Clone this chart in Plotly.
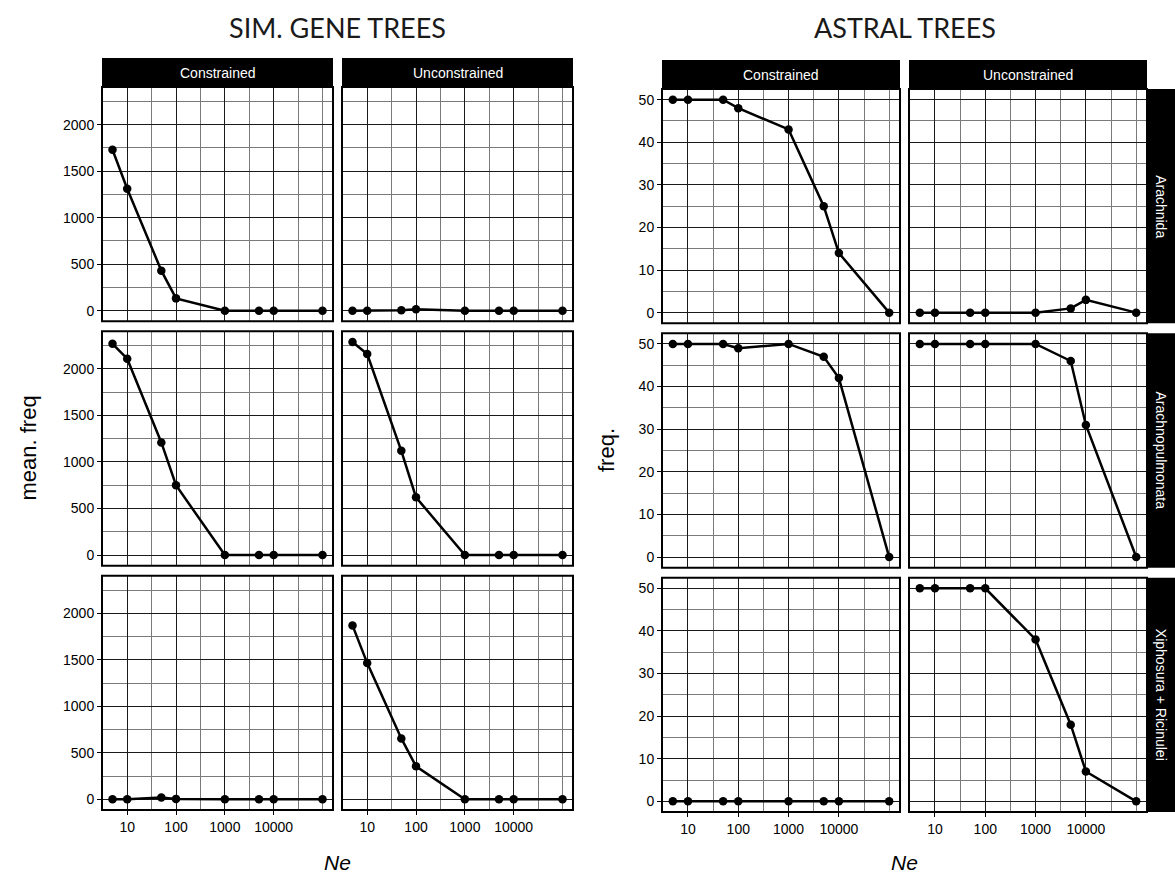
import math
import plotly.graph_objects as go

# ---------------- data ----------------
ne = [5, 10, 50, 100, 1000, 5000, 10000, 100000]
clades = ["Arachnida", "Arachnopulmonata", "Xiphosura + Ricinulei"]
conditions = ["Constrained", "Unconstrained"]

# SIM. GENE TREES (mean. freq)
gene_arachnida_con = [1730, 1310, 430, 132, 0, 0, 0, 0]
gene_arachnida_unc = [0, 0, 5, 15, 0, 0, 0, 0]
gene_arachnopulmonata_con = [2270, 2110, 1210, 750, 0, 0, 0, 0]
gene_arachnopulmonata_unc = [2290, 2160, 1120, 620, 0, 0, 0, 0]
gene_xiphosura_con = [0, 0, 20, 5, 0, 0, 0, 0]
gene_xiphosura_unc = [1870, 1465, 655, 355, 0, 0, 0, 0]

# ASTRAL TREES (freq.)
astral_arachnida_con = [50, 50, 50, 48, 43, 25, 14, 0]
astral_arachnida_unc = [0, 0, 0, 0, 0, 1, 3, 0]
astral_arachnopulmonata_con = [50, 50, 50, 49, 50, 47, 42, 0]
astral_arachnopulmonata_unc = [50, 50, 50, 50, 50, 46, 31, 0]
astral_xiphosura_con = [0, 0, 0, 0, 0, 0, 0, 0]
astral_xiphosura_unc = [50, 50, 50, 50, 38, 18, 7, 0]

x_ticks = [10, 100, 1000, 10000]
x_ticktext = ["10", "100", "1000", "10000"]
x_minor = [31.62, 316.2, 3162, 31623, 100000]

gene_yticks = [0, 500, 1000, 1500, 2000]
gene_yminor = [250, 750, 1250, 1750, 2250]
astral_yticks = [0, 10, 20, 30, 40, 50]
astral_yminor = [5, 15, 25, 35, 45]

gene_series = [
    [gene_arachnida_con, gene_arachnida_unc],
    [gene_arachnopulmonata_con, gene_arachnopulmonata_unc],
    [gene_xiphosura_con, gene_xiphosura_unc],
]
astral_series = [
    [astral_arachnida_con, astral_arachnida_unc],
    [astral_arachnopulmonata_con, astral_arachnopulmonata_unc],
    [astral_xiphosura_con, astral_xiphosura_unc],
]

# ---------------- layout geometry (pixels) ----------------
W, H = 1175, 878
FONT = "Liberation Sans, Arial, Helvetica, sans-serif"
TITLE_FONT = "Lato, Liberation Sans, sans-serif"
TICK_SIZE = 14


def fx(p):
    return p / W


def fy(p):
    return 1 - p / H


groups = [
    dict(cols=[(102, 333), (342, 573)],
         rows=[(87, 321.3), (331.3, 565.7), (575.7, 810)],
         strip_top=58, series=gene_series,
         yr=[-114.5, 2404.5], yticks=gene_yticks, yminor=gene_yminor),
    dict(cols=[(662, 900), (909, 1147)],
         rows=[(89, 323.3), (333.3, 567.7), (577.7, 812)],
         strip_top=60, series=astral_series,
         yr=[-2.5, 52.5], yticks=astral_yticks, yminor=astral_yminor),
]

xr = [math.log10(5) - 0.215, 5 + 0.215]

fig = go.Figure()
layout = dict(
    width=W, height=H,
    margin=dict(l=0, r=0, t=0, b=0),
    paper_bgcolor="white", plot_bgcolor="white",
    showlegend=False,
    font=dict(family=FONT, size=TICK_SIZE, color="black"),
)
shapes = []
annotations = []

idx = 0
for g, grp in enumerate(groups):
    for r, (ytop, ybot) in enumerate(grp["rows"]):
        for c, (xl, xrt) in enumerate(grp["cols"]):
            idx += 1
            xa = "xaxis" if idx == 1 else f"xaxis{idx}"
            ya = "yaxis" if idx == 1 else f"yaxis{idx}"
            xs = "x" if idx == 1 else f"x{idx}"
            ys = "y" if idx == 1 else f"y{idx}"
            bottom = r == 2
            left = c == 0
            layout[xa] = dict(
                type="log", domain=[fx(xl), fx(xrt)], range=xr, anchor=ys,
                tickmode="array", tickvals=x_ticks, ticktext=x_ticktext,
                showticklabels=bottom, ticks="outside" if bottom else "",
                ticklen=4, tickwidth=1, tickcolor="black",
                showgrid=True, gridcolor="#1a1a1a", gridwidth=1,
                minor=dict(tickmode="array", tickvals=x_minor, showgrid=True,
                           gridcolor="#7a7a7a", gridwidth=1, ticks=""),
                zeroline=False, showline=False,
                tickfont=dict(family=FONT, size=TICK_SIZE, color="black"),
            )
            layout[ya] = dict(
                domain=[fy(ybot), fy(ytop)], range=grp["yr"], anchor=xs,
                tickmode="array", tickvals=grp["yticks"],
                showticklabels=left, ticks="outside" if left else "",
                ticklen=4, tickwidth=1, tickcolor="black",
                showgrid=True, gridcolor="#1a1a1a", gridwidth=1,
                minor=dict(tickmode="array", tickvals=grp["yminor"], showgrid=True,
                           gridcolor="#7a7a7a", gridwidth=1, ticks=""),
                zeroline=False, showline=False,
                tickfont=dict(family=FONT, size=TICK_SIZE, color="black"),
            )
            fig.add_trace(go.Scatter(
                x=ne, y=grp["series"][r][c], xaxis=xs, yaxis=ys,
                mode="lines+markers",
                line=dict(color="black", width=2.5),
                marker=dict(color="black", size=8.5),
                hoverinfo="skip",
            ))
            shapes.append(dict(
                type="rect", xref=f"{xs} domain", yref=f"{ys} domain",
                x0=0, x1=1, y0=0, y1=1, line=dict(color="black", width=2),
                fillcolor="rgba(0,0,0,0)", layer="above",
            ))
    # top strips
    for c, (xl, xrt) in enumerate(grp["cols"]):
        stop = grp["strip_top"]
        sbot = grp["rows"][0][0]
        shapes.append(dict(
            type="rect", xref="paper", yref="paper",
            x0=fx(xl), x1=fx(xrt), y0=fy(sbot), y1=fy(stop),
            line=dict(width=0), fillcolor="black", layer="above",
        ))
        annotations.append(dict(
            x=fx((xl + xrt) / 2), y=fy((stop + sbot) / 2), xref="paper", yref="paper",
            text=conditions[c], showarrow=False,
            font=dict(family=FONT, size=TICK_SIZE, color="white"),
            xanchor="center", yanchor="middle",
        ))

# right-hand strips (ASTRAL group only)
rgrp = groups[1]
sx0 = rgrp["cols"][1][1]
for r, (ytop, ybot) in enumerate(rgrp["rows"]):
    shapes.append(dict(
        type="rect", xref="paper", yref="paper",
        x0=fx(sx0), x1=fx(W + 5), y0=fy(ybot), y1=fy(ytop),
        line=dict(width=0), fillcolor="black", layer="above",
    ))
    annotations.append(dict(
        x=fx(sx0 + 14), y=fy((ytop + ybot) / 2), xref="paper", yref="paper",
        text=clades[r], showarrow=False, textangle=90,
        font=dict(family=FONT, size=TICK_SIZE, color="white"),
        xanchor="center", yanchor="middle",
    ))

# titles and axis titles
annotations += [
    dict(x=fx(337.5), y=fy(27), xref="paper", yref="paper", text="SIM. GENE TREES",
         showarrow=False, font=dict(family=TITLE_FONT, size=27, color="#1a1a1a"),
         xanchor="center", yanchor="middle"),
    dict(x=fx(904.5), y=fy(27), xref="paper", yref="paper", text="ASTRAL TREES",
         showarrow=False, font=dict(family=TITLE_FONT, size=27, color="#1a1a1a"),
         xanchor="center", yanchor="middle"),
    dict(x=fx(337.5), y=fy(862), xref="paper", yref="paper", text="<i>Ne</i>",
         showarrow=False, font=dict(family=FONT, size=21, color="black"),
         xanchor="center", yanchor="middle"),
    dict(x=fx(904.5), y=fy(862), xref="paper", yref="paper", text="<i>Ne</i>",
         showarrow=False, font=dict(family=FONT, size=21, color="black"),
         xanchor="center", yanchor="middle"),
    dict(x=fx(28), y=fy(448.5), xref="paper", yref="paper", text="mean. freq",
         showarrow=False, textangle=-90, font=dict(family=FONT, size=22, color="black"),
         xanchor="center", yanchor="middle"),
    dict(x=fx(606), y=fy(450), xref="paper", yref="paper", text="freq.",
         showarrow=False, textangle=-90, font=dict(family=FONT, size=22, color="black"),
         xanchor="center", yanchor="middle"),
]

layout["shapes"] = shapes
layout["annotations"] = annotations
fig.update_layout(**layout)
fig.write_html("out.html")
